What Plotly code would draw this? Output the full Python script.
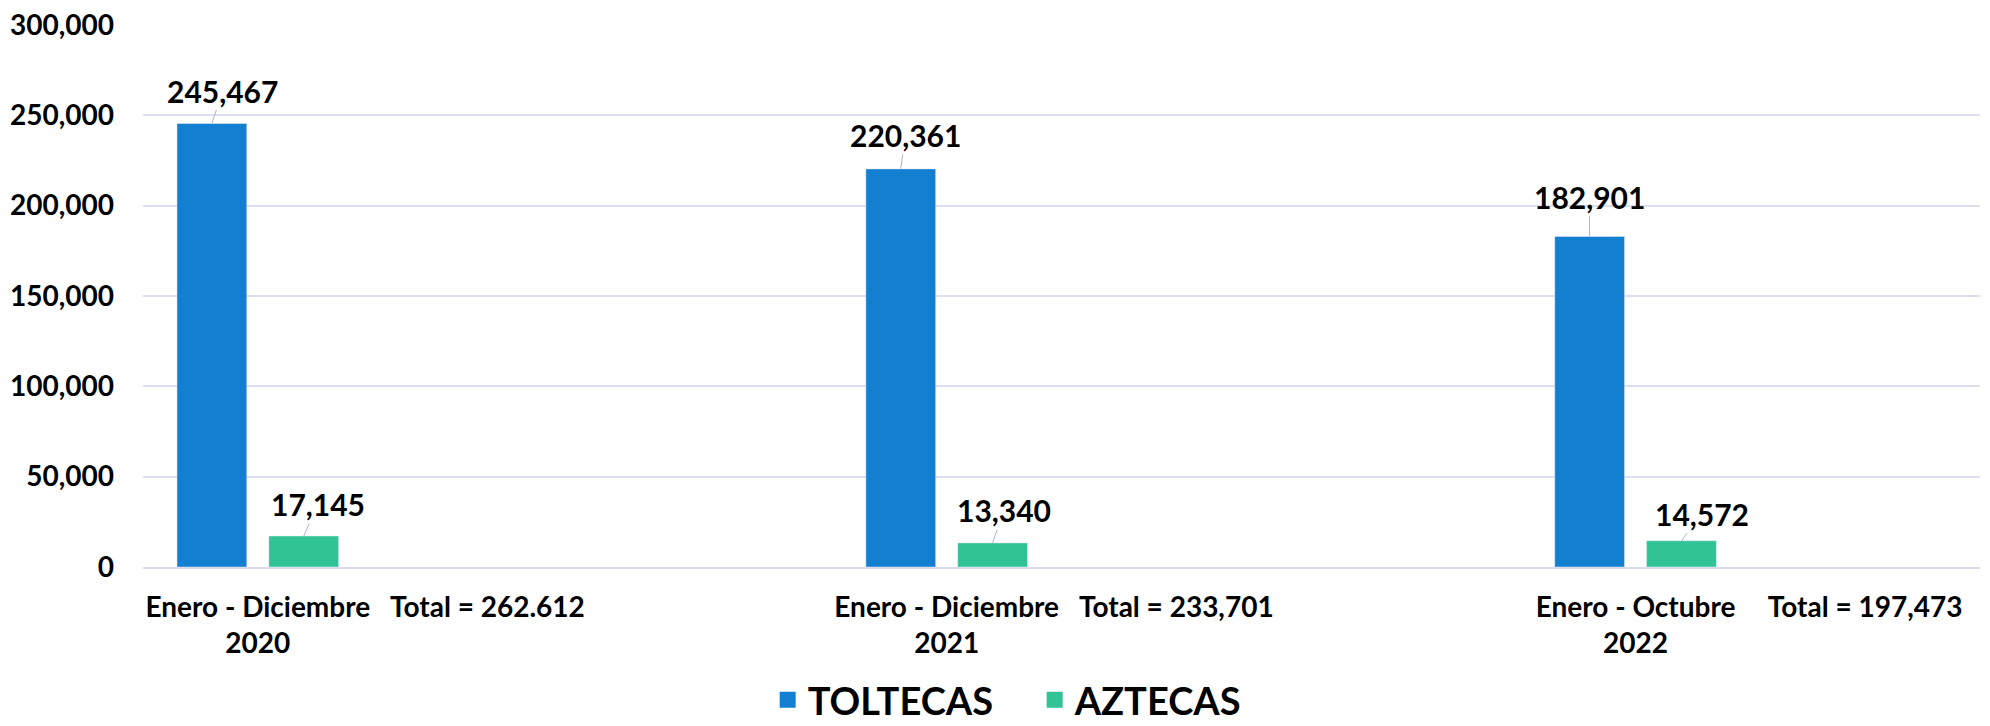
import plotly.graph_objects as go

periods = ["Enero - Diciembre<br>2020", "Enero - Diciembre<br>2021", "Enero - Octubre<br>2022"]
totals = ["Total = 262.612", "Total = 233,701", "Total = 197,473"]
toltecas = [245467, 220361, 182901]
aztecas = [17145, 13340, 14572]

# label offsets (pixels) for the value labels, like the moved labels in the original
tol_offsets = [(11, -33), (5, -34), (0, -40)]
azt_offsets = [(14, -32), (11, -33), (20, -27)]

# category layout: period, total, empty spacer
categories, tol_y, azt_y = [], [], []
for i, p in enumerate(periods):
    categories += [p, totals[i]]
    tol_y += [toltecas[i], None]
    azt_y += [aztecas[i], None]
    if i < len(periods) - 1:
        categories.append(" " * (i + 1))
        tol_y.append(None)
        azt_y.append(None)

BLUE = "#137FD0"
GREEN = "#31C396"
FONT = "Lato"

fig = go.Figure()
fig.add_trace(go.Bar(x=categories, y=tol_y, name="TOLTECAS", marker_color=BLUE, showlegend=False))
fig.add_trace(go.Bar(x=categories, y=azt_y, name="AZTECAS", marker_color=GREEN, showlegend=False))

# legend entries with bigger square symbols
for name, color in [("TOLTECAS", BLUE), ("AZTECAS", GREEN)]:
    fig.add_trace(go.Scatter(
        x=[None], y=[None], mode="markers", name=name,
        marker={"symbol": "square", "size": 16, "color": color},
    ))

shift = 46
for vals, offs, xs in [(toltecas, tol_offsets, -shift), (aztecas, azt_offsets, shift)]:
    for p, v, (dx, dy) in zip(periods, vals, offs):
        fig.add_annotation(
            x=p, y=v, xshift=xs,
            text=f"{v:,}",
            showarrow=True, arrowhead=0, arrowwidth=1, arrowcolor="#A9B5DC",
            ax=dx, ay=dy,
            font={"family": FONT, "size": 30, "color": "black", "weight": "bold"},
        )

# page body has an 8px margin, so the figure is a bit smaller than the window
fig.update_layout(
    width=1982,
    height=718,
    barmode="group",
    bargap=0.2,
    bargroupgap=0.24,
    plot_bgcolor="white",
    paper_bgcolor="white",
    margin={"l": 135, "r": 10, "t": 17, "b": 159, "autoexpand": False},
    font={"family": FONT, "color": "black"},
    legend={
        "orientation": "h",
        "itemsizing": "trace",
        "entrywidth": 222,
        "xref": "container",
        "x": 0.518, "xanchor": "center",
        "yref": "container",
        "y": 0.036, "yanchor": "middle",
        "font": {"family": FONT, "size": 38, "weight": "bold"},
    },
)
fig.update_xaxes(
    type="category",
    tickfont={"family": FONT, "size": 28, "weight": "bold"},
    ticks="",
    ticklabelstandoff=14,
    showgrid=False,
    showline=True,
    linecolor="#D9DCEE",
    linewidth=2,
    automargin=False,
)
fig.update_yaxes(
    range=[0, 300000],
    dtick=50000,
    tickformat=",",
    tickfont={"family": FONT, "size": 28, "weight": "bold"},
    ticklabelstandoff=28,
    ticklabeloverflow="allow",
    gridcolor="#DCDFEF",
    gridwidth=1.5,
    zeroline=False,
    automargin=False,
)

fig.write_html("out.html")
